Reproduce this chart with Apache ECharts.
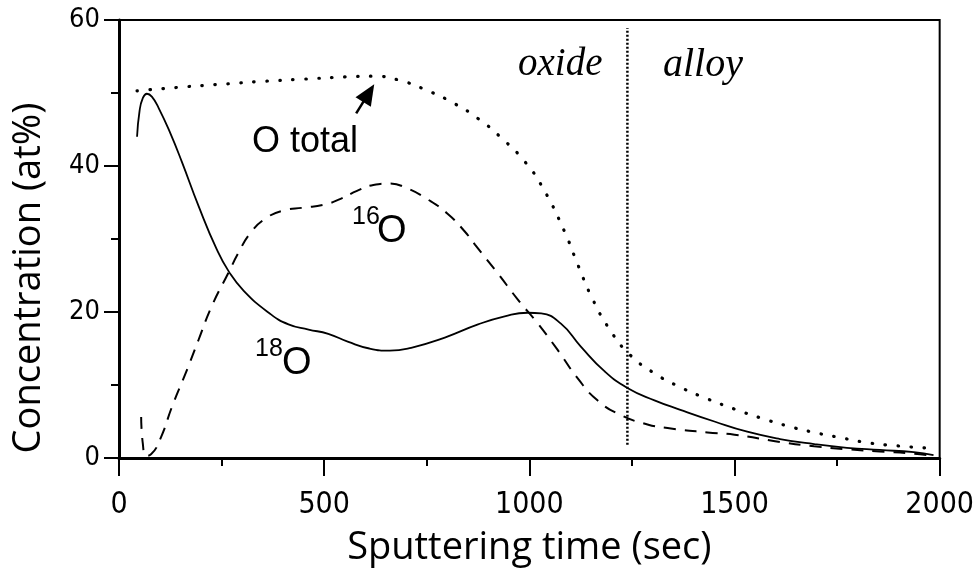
<!DOCTYPE html>
<html>
<head>
<meta charset="utf-8">
<script src="https://cdn.jsdelivr.net/npm/echarts@6/dist/echarts.min.js"></script>
<style>
html,body{margin:0;padding:0;background:#fff;}
#chart{width:977px;height:581px;}
</style>
</head>
<body>
<div id="chart"></div>
<script>
// ---- data ----
var oTotalTime = [44, 150, 250, 350, 450, 550, 620, 680, 753, 819, 875, 931, 989, 1033, 1086, 1118, 1154, 1196, 1244, 1305, 1368, 1434, 1500, 1563, 1628, 1694, 1757, 1823, 1888, 1985];
var oTotalVal  = [50.3, 50.8, 51.2, 51.6, 51.9, 52.2, 52.3, 51.8, 50.3, 48.5, 46.5, 43.9, 40.6, 37.0, 31.0, 26.5, 21.8, 17.6, 14.2, 11.6, 9.7, 8.1, 6.7, 5.5, 4.4, 3.5, 2.8, 2.1, 1.7, 1.3];

var o18Time = [44, 50, 58, 68, 80, 97, 125, 153, 194, 238, 267, 304, 365, 413, 462, 510, 559, 610, 660, 712, 794, 875, 940, 996, 1029, 1077, 1125, 1183, 1239, 1305, 1368, 1451, 1531, 1611, 1694, 1774, 1854, 1937, 1985];
var o18Val  = [44.0, 47.5, 49.3, 49.9, 49.5, 47.9, 44.5, 40.6, 34.5, 28.6, 25.6, 22.9, 19.9, 18.3, 17.6, 17.0, 15.9, 15.0, 14.7, 15.1, 16.5, 18.3, 19.4, 19.9, 19.8, 18.4, 15.3, 11.9, 9.6, 7.9, 6.6, 5.0, 3.6, 2.6, 1.9, 1.4, 1.1, 0.8, 0.4];

var o16Time = [54, 58, 66, 78, 102, 129, 163, 194, 226, 267, 290, 320, 357, 400, 450, 500, 540, 580, 620, 660, 700, 753, 800, 840, 868, 923, 972, 1021, 1069, 1118, 1166, 1222, 1288, 1337, 1434, 1500, 1611, 1694, 1774, 1854, 1937, 1985];
var o16Val  = [5.6, 2.0, 0.3, 0.5, 2.8, 7.0, 11.7, 16.2, 20.8, 25.4, 28.0, 30.8, 32.8, 33.9, 34.3, 34.7, 35.5, 36.6, 37.4, 37.6, 37.0, 35.4, 33.5, 31.2, 29.2, 25.3, 21.7, 18.4, 14.8, 10.9, 7.9, 5.9, 4.6, 4.1, 3.5, 3.2, 2.2, 1.6, 1.2, 0.9, 0.6, 0.3];

var dividerTime = 1239;
var dividerRange = [1.8, 58.9];
var arrowFrom = [578, 47.2];
var arrowTip = [622, 51.2];

var xTicks = [0, 500, 1000, 1500, 2000];
var yTicks = [0, 20, 40, 60];

function pairs(t, v) { return t.map(function (x, i) { return [x, v[i]]; }); }

var chart = echarts.init(document.getElementById('chart'), null, {renderer: 'canvas'});
var tickFont = '"Liberation Sans Narrow","Arial Narrow","DejaVu Sans Condensed",sans-serif';
var option = {
  animation: false,
  backgroundColor: '#fff',
  grid: {left: 119, top: 20, right: 34, bottom: 123, show: true, borderColor: '#000', borderWidth: 2, backgroundColor: 'transparent'},
  xAxis: {
    type: 'value', min: xTicks[0], max: xTicks[xTicks.length - 1], interval: 500,
    name: 'Sputtering time (sec)', nameLocation: 'middle', nameGap: 71,
    nameTextStyle: {fontFamily: '"Open Sans",sans-serif', fontSize: 38, color: '#000'},
    axisLine: {show: true, lineStyle: {color: '#000', width: 3}},
    axisTick: {show: true, inside: false, length: 18, lineStyle: {color: '#000', width: 2}},
    minorTick: {show: true, splitNumber: 2, length: 8, lineStyle: {color: '#000', width: 2}},
    splitLine: {show: false},
    axisLabel: {color: '#000', fontFamily: tickFont, fontSize: 30, margin: 32,
                formatter: function (v) { return String(v); }}
  },
  yAxis: {
    type: 'value', min: yTicks[0], max: yTicks[yTicks.length - 1], interval: 20,
    axisLine: {show: true, lineStyle: {color: '#000', width: 3}},
    axisTick: {show: true, inside: false, length: 15, lineStyle: {color: '#000', width: 2}},
    minorTick: {show: true, splitNumber: 2, length: 8, lineStyle: {color: '#000', width: 2}},
    splitLine: {show: false},
    axisLabel: {color: '#000', fontFamily: tickFont, fontSize: 27, margin: 19,
                formatter: function (v) { return String(v); }}
  },
  series: [
    {
      name: 'O total', type: 'line', data: pairs(oTotalTime, oTotalVal), smooth: 0.5,
      showSymbol: false, symbol: 'none',
      lineStyle: {color: '#000', width: 3.2, type: [0.5, 12.5], cap: 'round'}
    },
    {
      name: '18O', type: 'line', data: pairs(o18Time, o18Val), smooth: 0.5,
      showSymbol: false, symbol: 'none',
      lineStyle: {color: '#000', width: 1.8, type: 'solid'}
    },
    {
      name: '16O', type: 'line', data: pairs(o16Time, o16Val), smooth: 0.5,
      showSymbol: false, symbol: 'none',
      lineStyle: {color: '#000', width: 2, type: [12, 9]}
    },
    {
      name: 'divider', type: 'line', data: [[dividerTime, dividerRange[0]], [dividerTime, dividerRange[1]]],
      showSymbol: false, symbol: 'none',
      lineStyle: {color: '#000', width: 2.5, type: [2, 2]}
    }
  ],
  graphic: [
    {type: 'text', id: 'yTitle', x: 29, y: 278, rotation: Math.PI / 2,
     style: {text: 'Concentration (at%)', fontFamily: '"Open Sans",sans-serif', fontSize: 38, fill: '#000', align: 'center', verticalAlign: 'middle'}},
    {type: 'text', id: 'oxide', x: 518, y: 65,
     style: {text: 'oxide', fontFamily: '"Liberation Serif","Times New Roman",serif', fontStyle: 'italic', fontSize: 39, fill: '#000', align: 'left', verticalAlign: 'middle'}},
    {type: 'text', id: 'alloy', x: 663, y: 65,
     style: {text: 'alloy', fontFamily: '"Liberation Serif","Times New Roman",serif', fontStyle: 'italic', fontSize: 40, fill: '#000', align: 'left', verticalAlign: 'middle'}},
    {type: 'text', id: 'ototal', x: 252, y: 142,
     style: {text: 'O total', fontFamily: '"Liberation Sans",Arial,sans-serif', fontSize: 36, fill: '#000', align: 'left', verticalAlign: 'middle'}},
    {type: 'text', id: 'sup16', x: 352, y: 217,
     style: {text: '16', fontFamily: '"Liberation Sans",Arial,sans-serif', fontSize: 25, fill: '#000', align: 'left', verticalAlign: 'middle'}},
    {type: 'text', id: 'o16', x: 377, y: 232,
     style: {text: 'O', fontFamily: '"Liberation Sans",Arial,sans-serif', fontSize: 38, fill: '#000', align: 'left', verticalAlign: 'middle'}},
    {type: 'text', id: 'sup18', x: 255, y: 349,
     style: {text: '18', fontFamily: '"Liberation Sans",Arial,sans-serif', fontSize: 25, fill: '#000', align: 'left', verticalAlign: 'middle'}},
    {type: 'text', id: 'o18', x: 282, y: 364,
     style: {text: 'O', fontFamily: '"Liberation Sans",Arial,sans-serif', fontSize: 38, fill: '#000', align: 'left', verticalAlign: 'middle'}}
  ]
};
chart.setOption(option);

// annotation arrow, placed in data coordinates through the chart's own scales
var p0 = chart.convertToPixel({gridIndex: 0}, arrowFrom);
var p1 = chart.convertToPixel({gridIndex: 0}, arrowTip);
var dx = p1[0] - p0[0], dy = p1[1] - p0[1];
var len = Math.sqrt(dx * dx + dy * dy);
var ux = dx / len, uy = dy / len;
var headLen = 21, headHalf = 9;
var bx = p1[0] - ux * headLen, by = p1[1] - uy * headLen;
var nx = -uy, ny = ux;
chart.setOption({
  graphic: [
    {type: 'line', id: 'arrowShaft', shape: {x1: p0[0], y1: p0[1], x2: bx + ux * 2, y2: by + uy * 2},
     style: {stroke: '#000', lineWidth: 2.5}},
    {type: 'polygon', id: 'arrowHead',
     shape: {points: [[p1[0], p1[1]], [bx + nx * headHalf, by + ny * headHalf], [bx - nx * headHalf, by - ny * headHalf]]},
     style: {fill: '#000'}}
  ]
});
</script>
</body>
</html>
